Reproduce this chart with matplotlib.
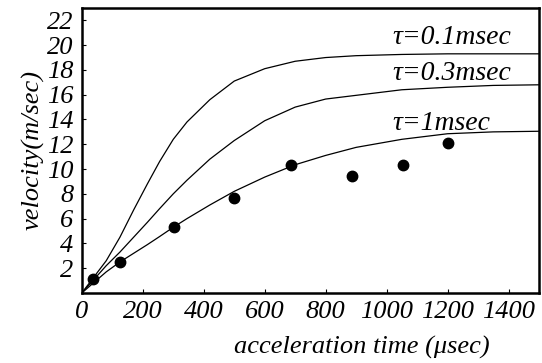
import matplotlib
matplotlib.use('Agg')
import matplotlib.pyplot as plt
from matplotlib.font_manager import FontProperties

# measured data points
t_pts = [35, 125, 303, 500, 687, 886, 1053, 1202]
v_pts = [1.1, 2.5, 5.3, 7.7, 10.3, 9.4, 10.3, 12.1]

# model curves
t_fit = [0, 40, 80, 125, 170, 215, 255, 300, 345, 420, 500, 600, 700, 800, 900, 1050, 1200, 1350, 1500]
v_tau01 = [0, 1.3, 2.6, 4.5, 6.7, 8.8, 10.6, 12.4, 13.8, 15.6, 17.1, 18.1, 18.7, 19.0, 19.15, 19.25, 19.3, 19.3, 19.3]
v_tau03 = [0, 1.1, 2.2, 3.3, 4.5, 5.7, 6.8, 8.0, 9.1, 10.8, 12.3, 13.9, 15.0, 15.65, 15.95, 16.4, 16.6, 16.75, 16.8]
v_tau1 = [0, 0.85, 1.7, 2.5, 3.2, 3.9, 4.55, 5.3, 6.0, 7.1, 8.2, 9.35, 10.35, 11.1, 11.75, 12.4, 12.85, 13.0, 13.05]

labels = ['τ=0.1msec', 'τ=0.3msec', 'τ=1msec']
label_y = [20.6, 17.75, 13.7]

xticks = [0, 200, 400, 600, 800, 1000, 1200, 1400]
yticks = [2, 4, 6, 8, 10, 12, 14, 16, 18, 20, 22]

plt.rcParams['font.family'] = ['Liberation Serif', 'DejaVu Serif']
plt.rcParams['font.style'] = 'italic'

def ital(size):
    return FontProperties(family='Liberation Serif', style='italic', size=size)

fig = plt.figure(figsize=(5.42, 3.63), dpi=100)
ax = fig.add_axes([0.151, 0.193, 0.8435, 0.785])

for v in [v_tau01, v_tau03, v_tau1]:
    ax.plot(t_fit, v, color='black', lw=0.9)
ax.plot(t_pts, v_pts, 'o', color='black', ms=7.5)

for lab, y in zip(labels, label_y):
    ax.text(1019, y, lab, fontproperties=ital(20), va='center', ha='left')

ax.set_xlim(0, 1500)
ax.set_ylim(0, 23)
ax.set_xticks(xticks)
ax.set_yticks(yticks)
ax.tick_params(direction='in', length=3, width=0.8, pad=6, labelsize=19)
for s in ax.spines.values():
    s.set_linewidth(1.8)

ax.set_xlabel('acceleration time (μsec)', fontproperties=ital(19))
ax.xaxis.set_label_coords(0.613, -0.15)
ax.set_ylabel('velocity(m/sec)', fontproperties=ital(19), labelpad=2)

# force the tick label font once the ticks exist
fig.canvas.draw()
for t in ax.xaxis.get_major_ticks() + ax.yaxis.get_major_ticks():
    t.label1.set_fontproperties(ital(19))

plt.savefig('out.png', dpi=100)
